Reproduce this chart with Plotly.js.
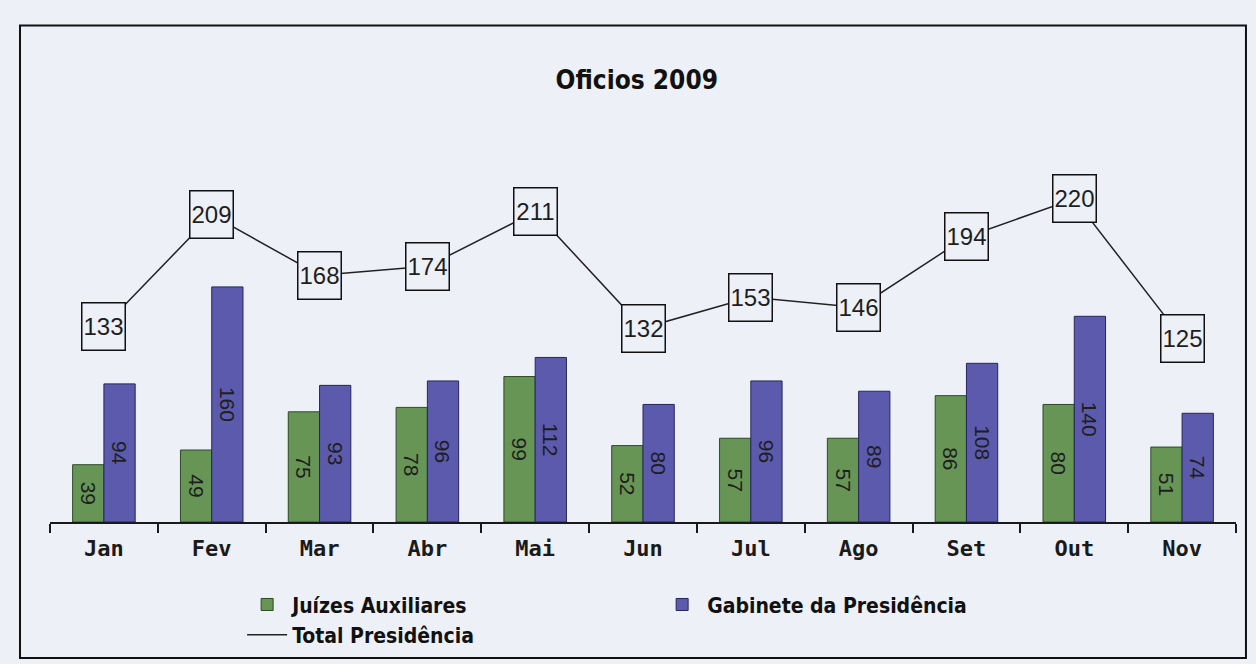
<!DOCTYPE html>
<html>
<head>
<meta charset="utf-8">
<script src="https://cdn.plot.ly/plotly-3.0.1.min.js"></script>
<style>
  html, body { margin: 0; padding: 0; background: #edf0f6; }
  #chart { width: 1256px; height: 664px; }
</style>
</head>
<body>
<div id="chart"></div>
<script>
const months = ['Jan', 'Fev', 'Mar', 'Abr', 'Mai', 'Jun', 'Jul', 'Ago', 'Set', 'Out', 'Nov'];
const juizes = [39, 49, 75, 78, 99, 52, 57, 57, 86, 80, 51];
const gabinete = [94, 160, 93, 96, 112, 80, 96, 89, 108, 140, 74];
const total = [133, 209, 168, 174, 211, 132, 153, 146, 194, 220, 125];

const barFont = {family: 'Liberation Sans Narrow, Arial Narrow, Liberation Sans, sans-serif', size: 21, color: '#1e1e1e'};

let juizesTrace = {
    x: months,
    y: juizes,
    type: 'bar',
    name: 'Juízes Auxiliares',
    text: juizes.map(String),
    textposition: 'inside',
    insidetextanchor: 'middle',
    textangle: 90,
    constraintext: 'none',
    insidetextfont: barFont,
    marker: {color: '#679556', line: {color: '#2f4a26', width: 1}},
    hoverinfo: 'x+y'
};

let gabineteTrace = {
    x: months,
    y: gabinete,
    type: 'bar',
    name: 'Gabinete da Presidência',
    text: gabinete.map(String),
    textposition: 'inside',
    insidetextanchor: 'middle',
    textangle: 90,
    constraintext: 'none',
    insidetextfont: barFont,
    marker: {color: '#5b5aad', line: {color: '#27265e', width: 1}},
    hoverinfo: 'x+y'
};

let totalTrace = {
    x: months,
    y: total,
    type: 'scatter',
    mode: 'lines',
    name: 'Total Presidência',
    line: {color: '#222222', width: 1.5},
    hoverinfo: 'x+y'
};

// boxed labels on the total line
const totalLabels = months.map((m, i) => ({
    x: m,
    y: total[i],
    xref: 'x',
    yref: 'y',
    text: String(total[i]),
    showarrow: false,
    font: {family: 'Liberation Sans Narrow, Arial Narrow, sans-serif', size: 24, color: '#1e1e1e'},
    width: 40,
    height: 44,
    bgcolor: '#edf0f6',
    bordercolor: '#111111',
    borderwidth: 1.5,
    borderpad: 1
}));

let layout = {
    width: 1256,
    height: 664,
    paper_bgcolor: '#edf0f6',
    plot_bgcolor: '#edf0f6',
    margin: {l: 50, r: 20, t: 140, b: 142},
    title: {
        text: '<b>Oficios 2009</b>',
        x: 0.507,
        xanchor: 'center',
        y: 0.88,
        yanchor: 'middle',
        font: {family: 'DejaVu Sans Condensed, Liberation Sans Narrow, sans-serif', size: 26, color: '#111111'}
    },
    barmode: 'group',
    bargap: 0.42,
    bargroupgap: 0,
    xaxis: {
        showline: true,
        linecolor: '#1a1a1a',
        linewidth: 2,
        ticks: 'outside',
        tickson: 'boundaries',
        ticklen: 9,
        tickwidth: 2,
        tickcolor: '#1a1a1a',
        ticklabelstandoff: 6,
        showgrid: false,
        tickfont: {family: 'DejaVu Sans Mono, monospace', size: 22, color: '#1a1a1a', weight: 'bold'}
    },
    yaxis: {
        visible: false,
        range: [0, 260]
    },
    showlegend: true,
    legend: {
        orientation: 'h',
        xref: 'paper',
        x: 0.162,
        xanchor: 'left',
        yref: 'container',
        y: 0.12,
        yanchor: 'top',
        entrywidth: 360,
        itemwidth: 40,
        bgcolor: 'rgba(0,0,0,0)',
        font: {family: 'DejaVu Sans Condensed, Liberation Sans Narrow, sans-serif', size: 21, color: '#111111', weight: 'bold'},
        traceorder: 'normal'
    },
    annotations: totalLabels,
    shapes: [{
        type: 'rect',
        xref: 'paper',
        yref: 'paper',
        x0: -0.0253,
        x1: 1.0084,
        y0: -0.356,
        y1: 1.30,
        line: {color: '#111111', width: 2}
    }]
};

Plotly.newPlot('chart', [juizesTrace, gabineteTrace, totalTrace], layout, {displayModeBar: false});
</script>
</body>
</html>
